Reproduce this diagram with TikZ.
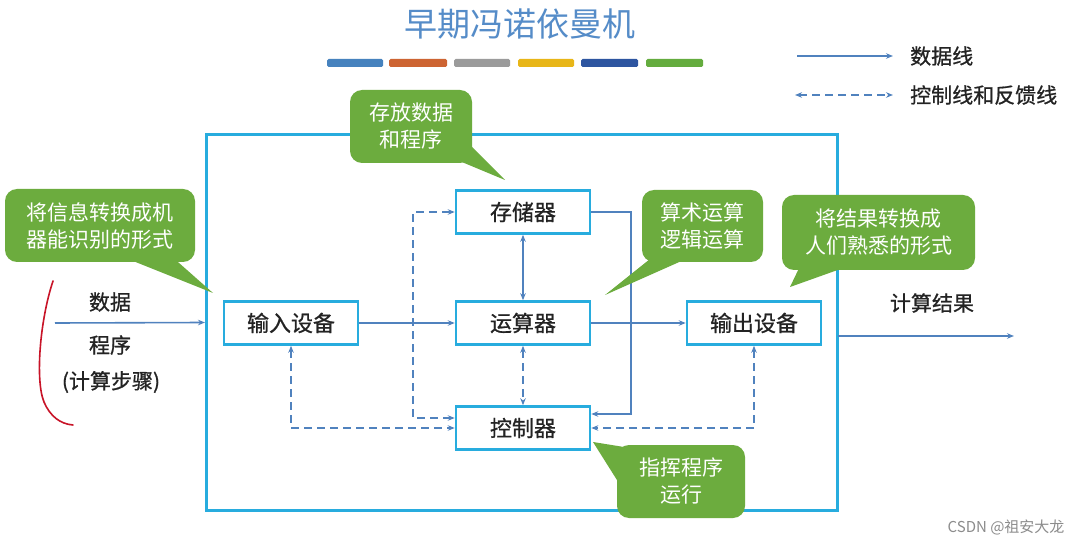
\documentclass[tikz,border=0pt]{standalone}
\usepackage{fontspec}
\setmainfont{Noto Sans CJK SC}
\newfontfamily\cjkb{Noto Sans CJK SC}[FakeBold=0.8]
\usetikzlibrary{arrows.meta,calc}
\definecolor{framec}{RGB}{40,172,222}
\definecolor{linec}{RGB}{80,130,190}
\definecolor{calloutc}{RGB}{108,172,62}
\definecolor{titlec}{RGB}{85,140,200}
\definecolor{textc}{RGB}{35,35,35}
\definecolor{barA}{RGB}{70,130,190}
\definecolor{barB}{RGB}{205,100,50}
\definecolor{barC}{RGB}{155,155,155}
\definecolor{barD}{RGB}{232,182,24}
\definecolor{barE}{RGB}{45,85,160}
\definecolor{barF}{RGB}{100,172,62}
\definecolor{bracketc}{RGB}{200,20,40}
\begin{document}
\begin{tikzpicture}[x=1pt,y=-1pt,
  unit/.style={draw=framec, line width=2.5pt, fill=white, minimum width=134pt, minimum height=43pt, inner sep=0pt, font=\cjkb\fontsize{22}{26}\selectfont, text=textc},
  frame/.style={draw=framec, line width=3pt, inner sep=0pt},
  callout/.style={fill=calloutc, rounded corners=12pt, inner sep=0pt, text=white, font=\fontsize{21}{27}\selectfont, align=center},
  tail/.style={fill=calloutc},
  data/.style={draw=linec, line width=1.6pt, -{Stealth[length=7pt,width=5.5pt]}},
  datab/.style={draw=linec, line width=1.6pt, {Stealth[length=7pt,width=5.5pt]}-{Stealth[length=7pt,width=5.5pt]}},
  ctrl/.style={draw=linec, line width=1.6pt, dash pattern=on 8pt off 5pt, {Stealth[length=7pt,width=5.5pt]}-{Stealth[length=7pt,width=5.5pt]}},
  lbl/.style={font=\cjkb\fontsize{21}{25}\selectfont, text=textc, inner sep=0pt},
  bar/.style={rounded corners=1.5pt}
]
\useasboundingbox (0,0) rectangle (1082,545);
\fill[white] (0,0) rectangle (1082,545);

% title and colour bars
\node[font=\fontsize{33}{36}\selectfont, text=titlec] (title) at (520,24) {早期冯诺依曼机};
\fill[bar,barA] (327,59) rectangle (383,67);
\fill[bar,barB] (389,59) rectangle (447,67);
\fill[bar,barC] (454,59) rectangle (510,67);
\fill[bar,barD] (518,59) rectangle (574,67);
\fill[bar,barE] (581,59) rectangle (638,67);
\fill[bar,barF] (646,59) rectangle (703,67);

% legend
\coordinate (la1) at (797,56);
\coordinate (lb1) at (893,56);
\coordinate (la2) at (795,95);
\coordinate (lb2) at (893,95);
\draw[data] (la1) -- (lb1);
\draw[ctrl] (la2) -- (lb2);
\node[lbl, anchor=west] (lg1) at (910,56) {数据线};
\node[lbl, anchor=west] (lg2) at (910,95) {控制线和反馈线};

% frame
\node[frame, minimum width=631pt, minimum height=375pt] (frame) at (522,322.5) {};

% units
\node[unit] (mem) at (523,212) {存储器};
\node[unit] (alu) at (523,323) {运算器};
\node[unit] (ctl) at (523,428) {控制器};
\node[unit] (in)  at (291,323) {输入设备};
\node[unit] (out) at (754,323) {输出设备};

% data lines
\coordinate (src) at (55,323);
\draw[data] (src) -- (frame.west);
\draw[data] (in.east) -- (alu.west);
\draw[data] (alu.east) -- (out.west);
\coordinate (res1) at (838,336);
\coordinate (res2) at (1014,336);
\draw[data] (res1) -- (res2);
\draw[datab] (mem.south) -- (alu.north);
\draw[data] (mem.east) -- ++(40,0) |- ([yshift=14pt]ctl.east);

% control lines
\draw[ctrl] (alu.south) -- (ctl.north);
\draw[ctrl] ([yshift=10pt]ctl.west) -| ($(mem.west)+(-42,0)$) -- (mem.west);
\draw[ctrl] (in.south) |- (ctl.west);
\draw[ctrl] (out.south) |- (ctl.east);

% left labels
\node[lbl] (l1) at (110,302) {数据};
\node[lbl] (l2) at (110,345) {程序};
\node[lbl] (l3) at (111,382) {(计算步骤)};
\node[lbl] (r1) at (932,303) {计算结果};

% red bracket
\draw[bracketc, line width=1.6pt, line cap=round] (53,281) .. controls (40,320) and (35,380) .. (44,402) .. controls (50,416) and (60,424) .. (73,425);

% callouts
\fill[tail] (445,155) -- (505,180) -- (465,140) -- cycle;
\node[callout, minimum width=122pt, minimum height=73pt] (c1) at (411,126.5) {存放数据\\和程序};

\fill[tail] (118,255) -- (213,293) -- (170,255) -- cycle;
\node[callout, minimum width=190pt, minimum height=73pt] (c2) at (100,225.5) {将信息转换成机\\器能识别的形式};

\fill[tail] (655,255) -- (605,295) -- (695,255) -- cycle;
\node[callout, minimum width=121pt, minimum height=72pt] (c3) at (702.5,226) {算术运算\\逻辑运算};

\fill[tail] (802,262) -- (790,287) -- (860,262) -- cycle;
\node[callout, minimum width=193pt, minimum height=75pt] (c4) at (878.5,232.5) {将结果转换成\\人们熟悉的形式};

\fill[tail] (622,488) -- (593,442) -- (655,452) -- cycle;
\node[callout, minimum width=128pt, minimum height=73pt] (c5) at (681,481.5) {指挥程序\\运行};

% watermark
\node[font=\fontsize{15}{18}\selectfont, text=black!45, anchor=east] (wm) at (1068,527) {CSDN @祖安大龙};
\end{tikzpicture}
\end{document}
